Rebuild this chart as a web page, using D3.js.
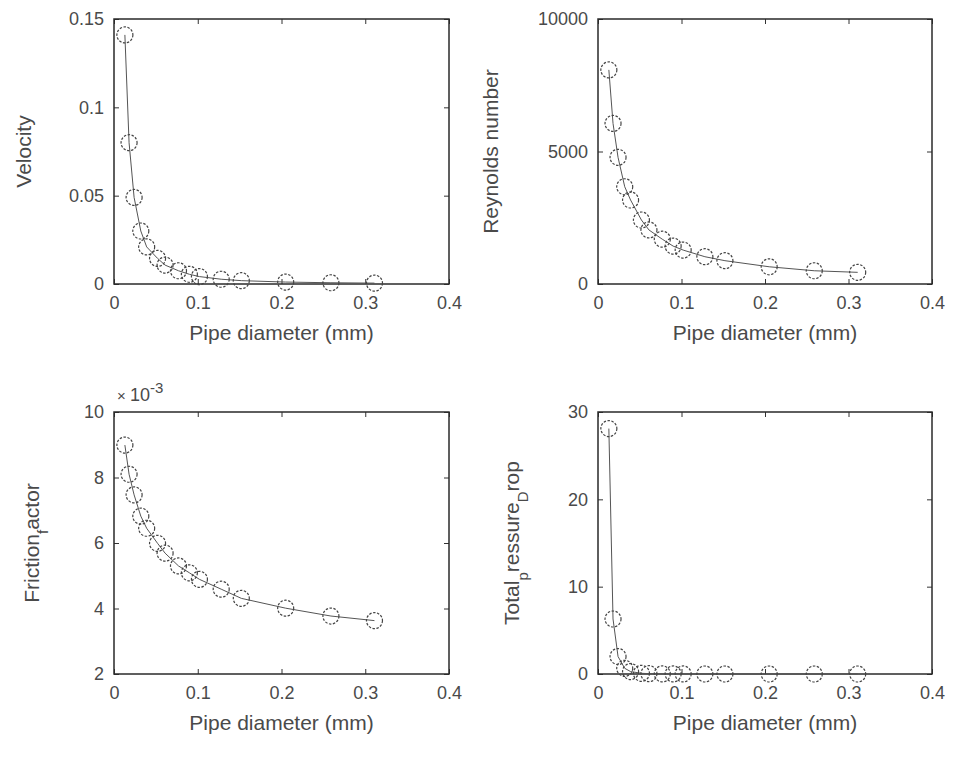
<!DOCTYPE html>
<html>
<head>
<meta charset="utf-8">
<script src="https://cdn.jsdelivr.net/npm/d3@7"></script>
<style>
  body { margin: 0; background: #fff; }
  text { font-family: "Liberation Sans", Arial, sans-serif; fill: #4a4a4a; }
</style>
</head>
<body>
<div id="chart"></div>
<script>
// values
var diameter = [0.013, 0.018, 0.024, 0.032, 0.039, 0.052, 0.061, 0.077, 0.090, 0.102, 0.128, 0.152, 0.205, 0.259, 0.311]
var velocity = [0.141, 0.080, 0.049, 0.030, 0.021, 0.0145, 0.0107, 0.0075, 0.0055, 0.0042, 0.0027, 0.0019, 0.0011, 0.0007, 0.0005]
var reynolds = [8080, 6060, 4780, 3670, 3170, 2415, 2040, 1690, 1430, 1280, 1030, 880, 650, 500, 440]
var friction = [0.00899, 0.00810, 0.00747, 0.00682, 0.00645, 0.00599, 0.00569, 0.00530, 0.00509, 0.00489, 0.00459, 0.00431, 0.00401, 0.00377, 0.00363]
var pressure = [28.1, 6.3, 2.0, 0.65, 0.28, 0.08, 0.04, 0.015, 0.008, 0.005, 0.002, 0.001, 0.0003, 0.0001, 0.00004]

var xTicks = [0, 0.1, 0.2, 0.3, 0.4]
var xTickLabels = ['0', '0.1', '0.2', '0.3', '0.4']

var width = 955, height = 764

var svg = d3.select('#chart').append('svg')
  .attr('width', width)
  .attr('height', height)

// one entry per subplot
var panels = [
  { x0: 114, x1: 449, y0: 19, y1: 284, values: velocity, domain: [0, 0.15],
    ticks: [0, 0.05, 0.1, 0.15], labels: ['0', '0.05', '0.1', '0.15'],
    ylabel: [['Velocity', false]], labelX: 24 },
  { x0: 598, x1: 932, y0: 19, y1: 284, values: reynolds, domain: [0, 10000],
    ticks: [0, 5000, 10000], labels: ['0', '5000', '10000'],
    ylabel: [['Reynolds number', false]], labelX: 491 },
  { x0: 114, x1: 449, y0: 412, y1: 674, values: friction, domain: [0.002, 0.01],
    ticks: [0.002, 0.004, 0.006, 0.008, 0.01], labels: ['2', '4', '6', '8', '10'],
    ylabel: [['Friction', false], ['f', true], ['actor', false]], labelX: 32, exponent: true },
  { x0: 598, x1: 932, y0: 412, y1: 674, values: pressure, domain: [0, 30],
    ticks: [0, 10, 20, 30], labels: ['0', '10', '20', '30'],
    ylabel: [['Total', false], ['p', true], ['ressure', false], ['D', true], ['rop', false]], labelX: 512 }
]

panels.forEach(function (p) {
  var x = d3.scaleLinear().domain([0, 0.4]).range([p.x0, p.x1])
  var y = d3.scaleLinear().domain(p.domain).range([p.y1, p.y0])
  var g = svg.append('g')

  // inward ticks on all four sides, like matlab
  var bottom = g.append('g').attr('transform', `translate(0,${p.y1})`)
    .call(d3.axisBottom(x).tickValues(xTicks).tickSize(-5).tickPadding(12)
      .tickFormat(function (d, i) { return xTickLabels[i] }))
  g.append('g').attr('transform', `translate(0,${p.y0})`)
    .call(d3.axisTop(x).tickValues(xTicks).tickSize(-5).tickFormat(''))
  var left = g.append('g').attr('transform', `translate(${p.x0},0)`)
    .call(d3.axisLeft(y).tickValues(p.ticks).tickSize(-5).tickPadding(10)
      .tickFormat(function (d, i) { return p.labels[i] }))
  g.append('g').attr('transform', `translate(${p.x1},0)`)
    .call(d3.axisRight(y).tickValues(p.ticks).tickSize(-5).tickFormat(''))

  g.selectAll('.domain').remove()
  g.selectAll('.tick line').attr('stroke', '#333')
  g.selectAll('.tick text').style('font-size', '18px').attr('fill', '#4a4a4a')
  bottom.selectAll('.tick text').attr('dy', '0.71em')

  g.append('rect')
    .attr('x', p.x0).attr('y', p.y0)
    .attr('width', p.x1 - p.x0).attr('height', p.y1 - p.y0)
    .attr('fill', 'none').attr('stroke', '#2a2a2a').attr('stroke-width', 1.5)

  var pts = diameter.map(function (d, i) { return [d, p.values[i]] })

  g.append('path')
    .datum(pts)
    .attr('d', d3.line().x(function (d) { return x(d[0]) }).y(function (d) { return y(d[1]) }))
    .attr('fill', 'none')
    .attr('stroke', '#555')
    .attr('stroke-width', 1)

  g.selectAll('circle.m')
    .data(pts)
    .enter()
    .append('circle')
    .attr('class', 'm')
    .attr('cx', function (d) { return x(d[0]) })
    .attr('cy', function (d) { return y(d[1]) })
    .attr('r', 8)
    .attr('fill', 'none')
    .attr('stroke', '#444')
    .attr('stroke-width', 1.2)
    .attr('stroke-dasharray', '2.5 1.5')

  // x label
  g.append('text')
    .attr('x', (p.x0 + p.x1) / 2)
    .attr('y', p.y1 + 56)
    .attr('text-anchor', 'middle')
    .style('font-size', '21px')
    .text('Pipe diameter (mm)')

  // y label with matlab style underscores turned into subscripts
  var yl = g.append('text')
    .attr('transform', `translate(${p.labelX},${(p.y0 + p.y1) / 2}) rotate(-90)`)
    .attr('text-anchor', 'middle')
    .attr('dy', '0.35em')
    .style('font-size', '21px')
  p.ylabel.forEach(function (part) {
    var t = yl.append('tspan').text(part[0])
    if (part[1]) t.attr('baseline-shift', 'sub').style('font-size', '15px')
  })

  if (p.exponent) {
    var ex = g.append('text').attr('x', p.x0 + 3).attr('y', p.y0 - 11).style('font-size', '18px')
    ex.append('tspan').text('\u00d7 ').style('font-size', '15px')
    ex.append('tspan').text('10')
    ex.append('tspan').text('-3').attr('baseline-shift', 'super').style('font-size', '15px')
  }
})
</script>
</body>
</html>
